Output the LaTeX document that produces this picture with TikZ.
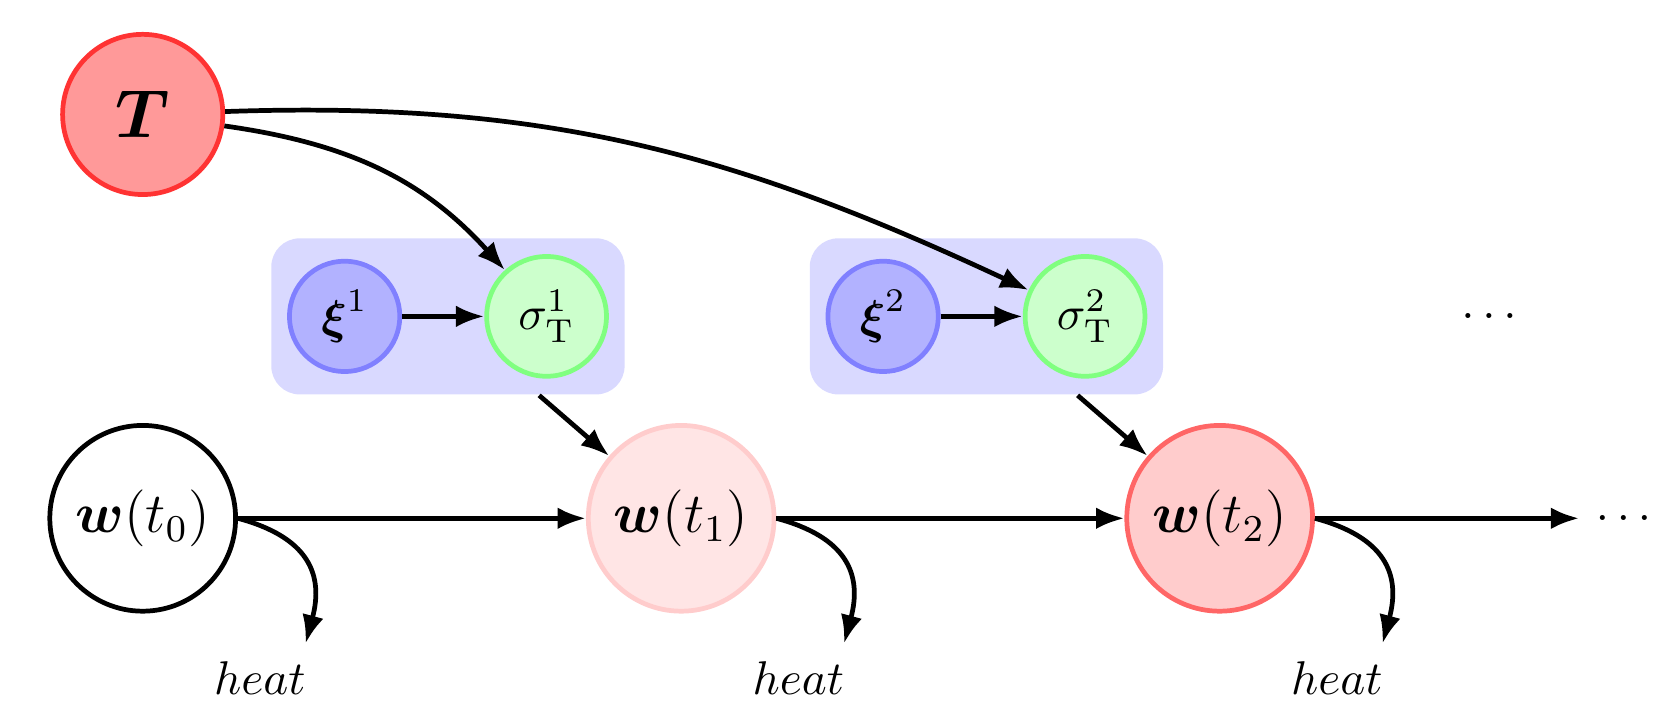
\documentclass[tikz,border=0pt]{standalone}
\usepackage{amsmath,amssymb}
\usepackage{tikz}
\usetikzlibrary{arrows.meta,fit,backgrounds,calc}

\tikzset{
  var/.style={circle,line width=1pt,inner sep=0pt},
  wnode/.style={var,minimum size=1.38cm,font=\large},
  tnode/.style={var,minimum size=1.19cm,draw=red!80,fill=red!40},
  xinode/.style={var,minimum size=0.82cm,draw=blue!50,fill=blue!30},
  signode/.style={var,minimum size=0.89cm,draw=green!50,fill=green!20},
  groupbox/.style={fill=blue!15,rounded corners=6pt},
  flow/.style={-{Latex[length=6pt,width=4.6pt]},line width=1pt},
}

\begin{document}
\begin{tikzpicture}
  \useasboundingbox (-1.06,-1.45) rectangle (11.39,3.85);
  % weights over time
  \node[wnode,draw=black] (w0) at (0,0) {$\boldsymbol{w}(t_0)$};
  \node[wnode,draw=red!20,fill=red!10] (w1) at (4,0) {$\boldsymbol{w}(t_1)$};
  \node[wnode,draw=red!60,fill=red!20] (w2) at (8,0) {$\boldsymbol{w}(t_2)$};
  \node (wdots) at (11,0) {$\ldots$};
  % temperature
  \node[tnode] (T) at (0,3) {\Large$\boldsymbol{T}$};
  % noise and stress per step
  \node[xinode] (xi1) at (1.5,1.5) {$\boldsymbol{\xi}^1$};
  \node[signode] (s1) at (3,1.5) {$\sigma_{\mathrm{T}}^1$};
  \node[xinode] (xi2) at (5.5,1.5) {$\boldsymbol{\xi}^2$};
  \node[signode] (s2) at (7,1.5) {$\sigma_{\mathrm{T}}^2$};
  \node (sdots) at (10,1.5) {$\ldots$};
  \begin{scope}[on background layer]
    \node[groupbox,fit=(xi1)(s1)] (g1) {};
    \node[groupbox,fit=(xi2)(s2)] (g2) {};
  \end{scope}

  \draw[flow] (w0) -- (w1);
  \draw[flow] (w1) -- (w2);
  \draw[flow] (w2) -- (wdots);
  \draw[flow] (xi1) -- (s1);
  \draw[flow] (xi2) -- (s2);
  \draw[flow] (g1) -- (w1);
  \draw[flow] (g2) -- (w2);
  \draw[flow] (T) to[out=-8,in=132] (s1);
  \draw[flow] (T) to[out=2,in=155] (s2);

  % heat released at each step
  \foreach \i in {0,1,2} {
    \coordinate (h\i) at ($(w\i)+(1.21,-0.93)$);
    \node (heat\i) at ($(w\i)+(0.87,-1.19)$) {$heat$};
    \draw[flow] (w\i.east) to[out=-15,in=75,looseness=1.3] (h\i);
  }
\end{tikzpicture}
\end{document}
